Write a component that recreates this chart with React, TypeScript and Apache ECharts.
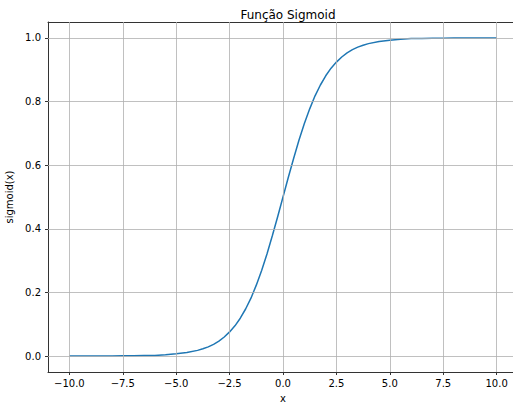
import React, { useEffect, useRef } from "react";
import * as echarts from "echarts";

const xValues = [
  -10, -9.5, -9, -8.5, -8, -7.5, -7, -6.5, -6, -5.5, -5, -4.5, -4, -3.75, -3.5, -3.25, -3, -2.75, -2.5,
  -2.25, -2, -1.75, -1.5, -1.25, -1, -0.75, -0.5, -0.25, 0, 0.25, 0.5, 0.75, 1, 1.25, 1.5, 1.75, 2, 2.25,
  2.5, 2.75, 3, 3.25, 3.5, 3.75, 4, 4.5, 5, 5.5, 6, 6.5, 7, 7.5, 8, 8.5, 9, 9.5, 10,
];
const yValues = [
  0.0, 0.0, 0.0, 0.0, 0.0, 0.001, 0.001, 0.002, 0.002, 0.004, 0.007, 0.011, 0.018, 0.023, 0.029, 0.037,
  0.047, 0.06, 0.076, 0.095, 0.119, 0.148, 0.182, 0.223, 0.269, 0.321, 0.378, 0.438, 0.5, 0.562, 0.622,
  0.679, 0.731, 0.777, 0.818, 0.852, 0.881, 0.905, 0.924, 0.94, 0.953, 0.963, 0.971, 0.977, 0.982, 0.989,
  0.993, 0.996, 0.998, 0.998, 0.999, 0.999, 1.0, 1.0, 1.0, 1.0, 1.0,
];
const xTicks = [-10, -7.5, -5, -2.5, 0, 2.5, 5, 7.5, 10];
const yTicks = [0, 0.2, 0.4, 0.6, 0.8, 1.0];

const title = "Função Sigmoid";
const xName = "x";
const yName = "sigmoid(x)";

const fmt = (v: number) => (v < 0 ? "\u2212" : "") + Math.abs(v).toFixed(1);

export default function App() {
  const ref = useRef<HTMLDivElement>(null);
  useEffect(() => {
    document.body.style.margin = "0";
    const chart = echarts.init(ref.current!, null, { renderer: "svg" });
    const font = "DejaVu Sans";
    const gridLine = { color: "#b0b0b0", width: 0.8, type: "solid" };
    chart.setOption({
      animation: false,
      backgroundColor: "#ffffff",
      title: {
        text: title,
        left: 283,
        top: 4,
        textAlign: "center",
        textStyle: { fontFamily: font, fontSize: 12, fontWeight: "normal", color: "#000" },
      },
      grid: {
        left: 48,
        top: 22,
        right: -5,
        bottom: 35,
        show: false,
        containLabel: false,
        outerBoundsMode: "none",
      },
      xAxis: [
        {
          type: "value",
          min: -11,
          max: 11,
          name: xName,
          nameLocation: "middle",
          nameGap: 21,
          nameTextStyle: { fontFamily: font, fontSize: 10, color: "#000" },
          axisLine: { show: true, onZero: false, lineStyle: { color: "#333", width: 1 } },
          axisTick: { show: true, inside: false, length: 3, customValues: xTicks, lineStyle: { color: "#333" } },
          axisLabel: {
            customValues: xTicks,
            formatter: fmt,
            margin: 6,
            fontFamily: font,
            fontSize: 10,
            color: "#000",
          },
          splitLine: { show: false },
        },
        {
          type: "value",
          position: "top",
          min: -11,
          max: 11,
          axisLine: { show: true, onZero: false, lineStyle: { color: "#333", width: 1 } },
          axisTick: { show: false },
          axisLabel: { show: false },
          splitLine: { show: false },
        },
      ],
      yAxis: {
        type: "value",
        min: -0.05,
        max: 1.05,
        name: yName,
        nameLocation: "middle",
        nameGap: 30,
        nameTextStyle: { fontFamily: font, fontSize: 10, color: "#000" },
        axisLine: { show: true, onZero: false, lineStyle: { color: "#333", width: 1 } },
        axisTick: { show: true, inside: false, length: 3, customValues: yTicks, lineStyle: { color: "#333" } },
        axisLabel: {
          customValues: yTicks,
          formatter: fmt,
          margin: 7,
          fontFamily: font,
          fontSize: 10,
          color: "#000",
        },
        splitLine: { show: false },
      },
      series: [
        {
          type: "line",
          xAxisIndex: 0,
          z: 1,
          data: [],
          silent: true,
          markLine: {
            silent: true,
            symbol: "none",
            label: { show: false },
            lineStyle: gridLine,
            emphasis: { disabled: true },
            data: [
              ...xTicks.map((v) => ({ xAxis: v })),
              ...yTicks.map((v) => ({ yAxis: v })),
            ],
          },
        },
        {
          type: "line",
          xAxisIndex: 0,
          z: 3,
          data: xValues.map((x, i) => [x, yValues[i]]),
          showSymbol: false,
          smooth: false,
          lineStyle: { color: "#1f77b4", width: 1.5 },
          itemStyle: { color: "#1f77b4" },
        },
      ],
    });
    return () => chart.dispose();
  }, []);
  return <div ref={ref} style={{ width: 513, height: 407 }} />;
}
